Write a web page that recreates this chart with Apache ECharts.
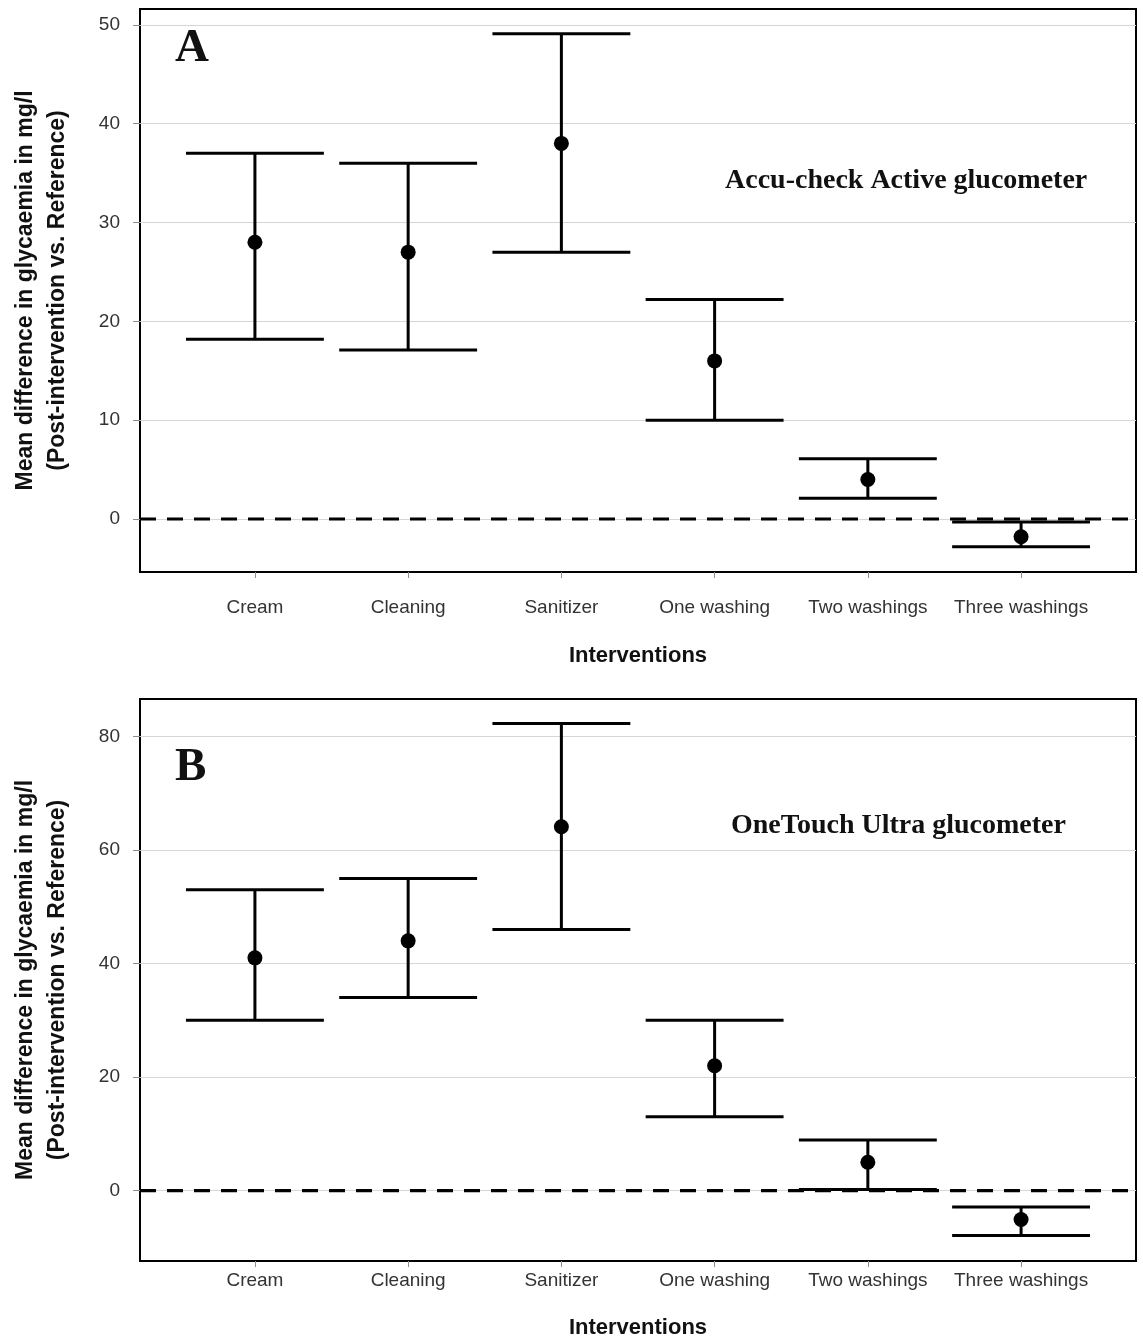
<!DOCTYPE html>
<html>
<head>
<meta charset="utf-8">
<script src="https://cdn.jsdelivr.net/npm/echarts@6/dist/echarts.min.js"></script>
<style>
html,body{margin:0;padding:0;background:#fff;}
#chart{width:1143px;height:1340px;}
</style>
</head>
<body>
<div id="chart"></div>
<script>
const categories = ['Cream', 'Cleaning', 'Sanitizer', 'One washing', 'Two washings', 'Three washings'];
const meanA = [28, 27, 38, 16, 4, -1.8];
const lowA  = [18.2, 17.1, 27, 10, 2.1, -2.8];
const highA = [37, 36, 49.1, 22.2, 6.1, -0.3];
const meanB = [41, 44, 64.1, 22, 5, -5.1];
const lowB  = [30, 34, 46, 13, 0.2, -7.9];
const highB = [53, 55, 82.3, 30, 8.9, -2.9];
const ticksA = [0, 10, 20, 30, 40, 50];
const ticksB = [0, 20, 40, 60, 80];
const panelLabels = ['A', 'B'];
const meterNames = ['Accu-check Active glucometer', 'OneTouch Ultra glucometer'];
const yTitle = 'Mean difference in glycaemia in mg/l\n(Post-intervention vs. Reference)';
const xTitle = 'Interventions';

const SANS = '"Liberation Sans", Arial, sans-serif';
const SERIF = '"Liberation Serif", "Times New Roman", serif';
const catIdx = categories.map((c, i) => i);

function xAxisDef(gridIndex, labelMargin, nameGap) {
  return {
    type: 'value', gridIndex: gridIndex, min: -0.75, max: 5.75,
    splitLine: { show: false },
    axisLine: { show: false, onZero: false },
    axisTick: { show: true, customValues: catIdx, length: 6, lineStyle: { color: '#8c8c8c', width: 1 } },
    axisLabel: {
      customValues: catIdx, margin: labelMargin, fontSize: 19, fontFamily: SANS, color: '#333',
      formatter: v => categories[Math.round(v)] || ''
    },
    name: xTitle, nameLocation: 'middle', nameGap: nameGap,
    nameTextStyle: { fontSize: 22, fontWeight: 'bold', fontFamily: SANS, color: '#111' }
  };
}
function yAxisDef(gridIndex, min, max, ticks) {
  return {
    type: 'value', gridIndex: gridIndex, min: min, max: max,
    splitLine: { show: false },
    axisLine: { show: false, onZero: false },
    axisTick: { show: true, customValues: ticks, length: 7, lineStyle: { color: '#8c8c8c', width: 1 } },
    axisLabel: { customValues: ticks, margin: 20, fontSize: 19, fontFamily: SANS, color: '#333', padding: [5, 0, 0, 0] },
    name: yTitle, nameLocation: 'middle', nameGap: 66,
    nameTextStyle: { fontSize: 23, fontWeight: 'bold', fontFamily: SANS, color: '#111', lineHeight: 32 }
  };
}

function errorSeries(axisIndex, low, high) {
  return {
    type: 'custom', xAxisIndex: axisIndex, yAxisIndex: axisIndex, z: 5,
    data: catIdx.map(i => [i, low[i], high[i]]),
    renderItem: function (params, api) {
      const x = api.value(0);
      const lo = api.coord([x, api.value(1)]);
      const hi = api.coord([x, api.value(2)]);
      const hw = api.size([0.45, 0])[0];
      const style = { stroke: '#000', lineWidth: 3 };
      return {
        type: 'group',
        children: [
          { type: 'line', shape: { x1: lo[0], y1: lo[1], x2: hi[0], y2: hi[1] }, style: style },
          { type: 'line', shape: { x1: lo[0] - hw, y1: lo[1], x2: lo[0] + hw, y2: lo[1] }, style: style },
          { type: 'line', shape: { x1: hi[0] - hw, y1: hi[1], x2: hi[0] + hw, y2: hi[1] }, style: style }
        ]
      };
    }
  };
}
function gridSeries(axisIndex, ticks) {
  return {
    type: 'line', xAxisIndex: axisIndex, yAxisIndex: axisIndex, data: [], z: 1, silent: true,
    markLine: {
      silent: true, symbol: 'none', animation: false, z: 1,
      label: { show: false },
      lineStyle: { color: '#d6d6d6', width: 1, type: 'solid' },
      data: ticks.map(v => ({ yAxis: v }))
    }
  };
}
function zeroSeries(axisIndex) {
  return {
    type: 'line', xAxisIndex: axisIndex, yAxisIndex: axisIndex, z: 8, silent: true,
    symbol: 'none', showSymbol: false, data: [[-0.75, 0], [5.75, 0]],
    lineStyle: { color: '#000', width: 3.2, type: [16, 11], opacity: 1 }
  };
}
function pointSeries(axisIndex, mean) {
  return {
    type: 'scatter', xAxisIndex: axisIndex, yAxisIndex: axisIndex, z: 6,
    symbol: 'circle', symbolSize: 15,
    itemStyle: { color: '#000', opacity: 1 },
    data: catIdx.map(i => [i, mean[i]])
  };
}

const chart = echarts.init(document.getElementById('chart'), null, { renderer: 'canvas' });
chart.setOption({
  backgroundColor: '#fff',
  animation: false,
  grid: [
    { left: 140, top: 9, width: 996, height: 563, show: true, borderColor: '#000', borderWidth: 2, backgroundColor: 'transparent' },
    { left: 140, top: 699, width: 996, height: 563, show: true, borderColor: '#000', borderWidth: 2, backgroundColor: 'transparent' }
  ],
  xAxis: [xAxisDef(0, 26, 73), xAxisDef(1, 10, 56)],
  yAxis: [yAxisDef(0, -5.36, 51.6, ticksA), yAxisDef(1, -12.4, 86.6, ticksB)],
  series: [
    gridSeries(0, ticksA), zeroSeries(0), errorSeries(0, lowA, highA), pointSeries(0, meanA),
    gridSeries(1, ticksB), zeroSeries(1), errorSeries(1, lowB, highB), pointSeries(1, meanB)
  ],
  graphic: [
    { type: 'text', left: 175, top: 25, z: 10, style: { text: panelLabels[0], font: 'bold 47px ' + SERIF, fill: '#111' } },
    { type: 'text', left: 175, top: 744, z: 10, style: { text: panelLabels[1], font: 'bold 47px ' + SERIF, fill: '#111' } },
    { type: 'text', left: 725, top: 167, z: 10, style: { text: meterNames[0], font: 'bold 28px ' + SERIF, fill: '#111' } },
    { type: 'text', left: 731, top: 812, z: 10, style: { text: meterNames[1], font: 'bold 28px ' + SERIF, fill: '#111' } }
  ]
});
</script>
</body>
</html>
